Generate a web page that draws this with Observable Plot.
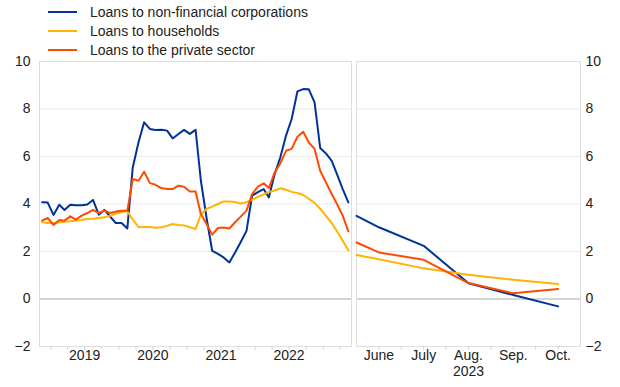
<!DOCTYPE html>
<html><head><meta charset="utf-8">
<script src="https://cdn.jsdelivr.net/npm/d3@7"></script>
<script src="https://cdn.jsdelivr.net/npm/@observablehq/plot@0.6"></script>
<style>
body{margin:0;background:#fff;font-family:"Liberation Sans",Arial,sans-serif;}
#chart{position:relative;width:620px;height:387px;overflow:hidden;}
#chart svg{position:absolute;top:0;}
.legend{position:absolute;left:48px;top:2.5px;font-size:14px;color:#222;line-height:19px;z-index:2}
.item{display:flex;align-items:center;height:19px;white-space:nowrap}
.swatch{width:29px;height:2.5px;margin-right:13px}
</style></head><body><div id="chart"></div>
<script>
const seriesNames = ["Loans to non-financial corporations", "Loans to households", "Loans to the private sector"];
const seriesColors = ["#003299", "#ffb400", "#ff4b00"];

// Left panel: monthly, Nov 2018 .. May 2023
const leftFirstMonth = [2018, 10]; // year, month index (0-based)
const nfc = [4.07,4.06,3.54,3.97,3.75,3.97,3.95,3.95,3.98,4.17,
  3.55,3.75,3.47,3.2,3.2,2.97,5.54,6.6,7.44,7.16,
  7.12,7.13,7.09,6.76,6.95,7.12,6.95,7.12,5.0,3.4,
  2.03,1.9,1.75,1.54,1.96,2.4,2.87,4.35,4.5,4.63,
  4.28,5.26,5.96,6.88,7.58,8.74,8.84,8.83,8.28,6.36,
  6.13,5.82,5.26,4.63,4.07];
const households = [3.23,3.2,3.2,3.23,3.25,3.27,3.3,3.33,3.37,3.38,
  3.41,3.44,3.5,3.6,3.66,3.69,3.35,3.02,3.03,3.03,
  3.0,3.02,3.08,3.16,3.12,3.1,3.02,2.95,3.55,3.8,
  3.89,4.0,4.11,4.11,4.08,4.02,4.08,4.18,4.3,4.4,
  4.5,4.57,4.66,4.6,4.51,4.46,4.38,4.22,4.05,3.8,
  3.5,3.2,2.85,2.45,2.05];
const privateSector = [3.3,3.41,3.12,3.33,3.3,3.48,3.34,3.51,3.62,3.75,
  3.62,3.72,3.62,3.68,3.72,3.72,5.05,4.98,5.36,4.88,
  4.81,4.67,4.63,4.63,4.77,4.73,4.53,4.53,3.58,3.16,
  2.71,2.99,3.01,2.97,3.23,3.47,3.72,4.42,4.73,4.87,
  4.67,5.33,5.71,6.24,6.32,6.83,7.04,6.59,6.32,5.4,
  4.91,4.42,4.0,3.51,2.85];
const yearLabels = [2019, 2020, 2021, 2022];

// Right panel: 2023, month numbers
const rightMonths = [5.5, 6, 7, 8, 9, 10];
const rightNfc = [3.5, 3.02, 2.24, 0.66, 0.17, -0.31];
const rightHouseholds = [1.85, 1.67, 1.29, 1.02, 0.81, 0.63];
const rightPrivate = [2.38, 1.96, 1.65, 0.67, 0.24, 0.42];
const monthTicks = [6, 7, 8, 9, 10];
const monthNames = ["June", "July", "Aug.", "Sep.", "Oct."];
const rightYear = [{label: "2023", month: 8}];
const yTicks = [-2, 0, 2, 4, 6, 8, 10];

const font = '"Liberation Sans", Arial, sans-serif';
const mDate = (k) => new Date(Date.UTC(leftFirstMonth[0], leftFirstMonth[1] + k, 15));
const leftData = [];
[nfc, households, privateSector].forEach((arr, s) => arr.forEach((v, i) => leftData.push({series: seriesNames[s], date: mDate(i), value: v})));
const rightData = [];
[rightNfc, rightHouseholds, rightPrivate].forEach((arr, s) => arr.forEach((v, i) => rightData.push({series: seriesNames[s], month: rightMonths[i], value: v})));

const xDomain = [new Date(Date.UTC(2018, 10, 1)), new Date(Date.UTC(2023, 5, 1))];
const quarterTicks = d3.utcMonth.every(3).range(new Date(Date.UTC(2019,0,1)), xDomain[1]);
const yearDates = yearLabels.map(y => new Date(Date.UTC(y, 6, 1)));
const halfTicks = d3.range(6, 10.01, 0.5);

const common = {
  height: 387, marginTop: 61, marginBottom: 41,
  y: {domain: [-2, 10]},
  color: {domain: seriesNames, range: seriesColors},
  style: {fontFamily: font, fontSize: "14px", color: "#222", background: "transparent", overflow: "visible"}
};

const left = Plot.plot({
  ...common,
  width: 351, marginLeft: 39, marginRight: 0,
  x: {type: "utc", domain: xDomain},
  marks: [
    Plot.gridY(yTicks.filter(d => d !== 0 && d !== -2 && d !== 10), {stroke: "#e9e9e9", strokeOpacity: 1}),
    Plot.ruleY([0], {stroke: "#aaa", strokeWidth: 1}),
    Plot.frame({stroke: "#dedede"}),
    Plot.axisY(yTicks, {tickSize: 0, tickPadding: 9, fontSize: 14, label: null}),
    Plot.axisX(quarterTicks, {tickSize: 4, stroke: "#d6d6d6", tickFormat: () => "", label: null}),
    Plot.axisX(yearDates, {tickSize: 0, tickPadding: 4, fontSize: 14, tickFormat: d => String(d.getUTCFullYear()), label: null}),
    Plot.line(leftData, {x: "date", y: "value", stroke: "series", strokeWidth: 2})
  ]
});
left.style.left = "0px";

const right = Plot.plot({
  ...common,
  width: 264, marginLeft: 0, marginRight: 40,
  x: {domain: [5.5, 10.5]},
  marks: [
    Plot.gridY(yTicks.filter(d => d !== 0 && d !== -2 && d !== 10), {stroke: "#e9e9e9", strokeOpacity: 1}),
    Plot.ruleY([0], {stroke: "#aaa", strokeWidth: 1}),
    Plot.frame({stroke: "#dedede"}),
    Plot.axisY(yTicks, {anchor: "right", tickSize: 0, tickPadding: 5, fontSize: 14, label: null}),
    Plot.axisX(halfTicks, {tickSize: 4, stroke: "#d6d6d6", tickFormat: () => "", label: null}),
    Plot.axisX(monthTicks, {tickSize: 0, tickPadding: 4, fontSize: 14, tickFormat: d => monthNames[monthTicks.indexOf(d)], label: null}),
    Plot.text(rightYear, {x: "month", text: "label", frameAnchor: "bottom", dy: 29, fontSize: 14, fill: "#222"}),
    Plot.line(rightData, {x: "month", y: "value", stroke: "series", strokeWidth: 2})
  ]
});
right.style.left = "356px";

const chart = document.getElementById("chart");
chart.appendChild(left);
chart.appendChild(right);

const legend = document.createElement("div");
legend.className = "legend";
seriesNames.forEach((n, i) => {
  const it = document.createElement("div");
  it.className = "item";
  const sw = document.createElement("span");
  sw.className = "swatch";
  sw.style.background = seriesColors[i];
  const tx = document.createElement("span");
  tx.textContent = n;
  it.appendChild(sw); it.appendChild(tx);
  legend.appendChild(it);
});
chart.appendChild(legend);
</script></body></html>
